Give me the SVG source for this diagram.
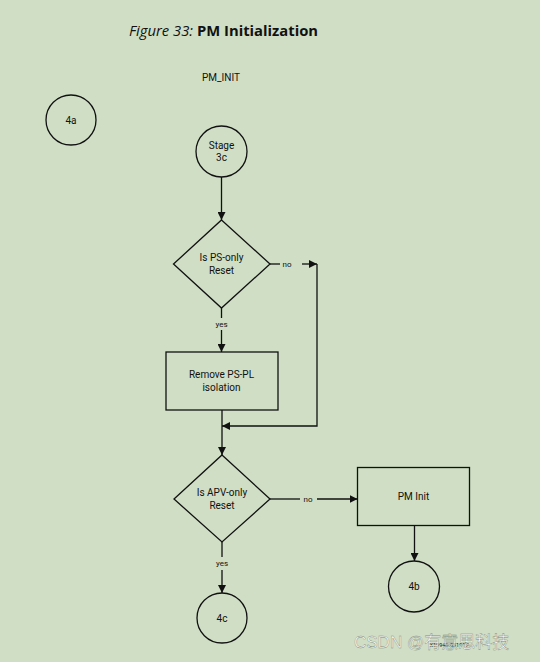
<svg xmlns="http://www.w3.org/2000/svg" width="540" height="662" viewBox="0 0 540 662">
<defs>
<marker id="arr" viewBox="0 0 10 10" refX="10" refY="5" markerWidth="8" markerHeight="8" markerUnits="userSpaceOnUse" orient="auto">
<path d="M0,0 L10,5 L0,10 z" fill="#111"/>
</marker>
<style>
.shape{fill:none;stroke:#111;stroke-width:1.3}
.ln{fill:none;stroke:#111;stroke-width:1.3}
.t{font-family:Roboto,"Liberation Sans",sans-serif;font-size:10px;fill:#111;text-anchor:middle}
.lab{font-family:Roboto,"Liberation Sans",sans-serif;font-size:8px;fill:#111;text-anchor:middle}
</style>
</defs>
<rect width="540" height="662" fill="#cfdec4"/>
<text x="129" y="36" font-family="'Open Sans','Noto Sans',sans-serif" font-size="14.8" fill="#111"><tspan font-style="italic">Figure 33:</tspan> <tspan font-weight="bold">PM Initialization</tspan></text>
<text class="t" x="221" y="81">PM_INIT</text>

<g id="n4a"><circle class="shape" cx="71" cy="120" r="25"/><text class="t" x="71" y="124">4a</text></g>
<g id="stage3c"><circle class="shape" cx="221.5" cy="151.5" r="25.5"/><text class="t" x="221.5" y="149">Stage</text><text class="t" x="221.5" y="161">3c</text></g>
<g id="d1"><polygon class="shape" points="221.5,220 270,264 221.5,308 173.5,264"/><text class="t" x="221.5" y="261">Is PS-only</text><text class="t" x="221.5" y="274">Reset</text></g>
<g id="b1"><rect class="shape" x="166" y="352" width="112" height="58"/><text class="t" x="221.5" y="378">Remove PS-PL</text><text class="t" x="221.5" y="391">isolation</text></g>
<g id="d2"><polygon class="shape" points="222,455 270,499 222,542 174,499"/><text class="t" x="222" y="496">Is APV-only</text><text class="t" x="222" y="509">Reset</text></g>
<g id="pminit"><rect class="shape" x="357.5" y="467.5" width="112" height="58"/><text class="t" x="413.5" y="500">PM Init</text></g>
<g id="n4b"><circle class="shape" cx="414" cy="586.5" r="25.5"/><text class="t" x="414" y="590">4b</text></g>
<g id="n4c"><circle class="shape" cx="222" cy="618" r="25"/><text class="t" x="222" y="622">4c</text></g>

<g id="connectors">
<line class="ln" x1="221.5" y1="177" x2="221.5" y2="220" marker-end="url(#arr)"/>
<line class="ln" x1="270" y1="264" x2="280" y2="264"/>
<text class="lab" x="287" y="267">no</text>
<line class="ln" x1="302" y1="264" x2="317" y2="264" marker-end="url(#arr)"/>
<polyline class="ln" points="317,264 317,426 222,426" marker-end="url(#arr)"/>
<line class="ln" x1="221.5" y1="308" x2="221.5" y2="318"/>
<text class="lab" x="221.5" y="327">yes</text>
<line class="ln" x1="221.5" y1="330" x2="221.5" y2="352" marker-end="url(#arr)"/>
<line class="ln" x1="222" y1="410" x2="222" y2="455" marker-end="url(#arr)"/>
<line class="ln" x1="270" y1="499" x2="300" y2="499"/>
<text class="lab" x="308" y="502">no</text>
<line class="ln" x1="317" y1="499" x2="357.5" y2="499" marker-end="url(#arr)"/>
<line class="ln" x1="414.5" y1="525.5" x2="414.5" y2="561" marker-end="url(#arr)"/>
<line class="ln" x1="222" y1="542" x2="222" y2="557"/>
<text class="lab" x="222" y="566">yes</text>
<line class="ln" x1="222" y1="570" x2="222" y2="593" marker-end="url(#arr)"/>
</g>

<text x="449" y="647" font-family="Roboto,'Liberation Sans',sans-serif" font-size="5.5" fill="#111" text-anchor="middle">X19946-031917</text>
<text x="354" y="648" font-family="'Liberation Sans','Noto Sans CJK SC',sans-serif" font-size="17" fill="#ffffff" fill-opacity="0.9" stroke="#7d8876" stroke-width="0.4">CSDN @有意思科技</text>
</svg>
